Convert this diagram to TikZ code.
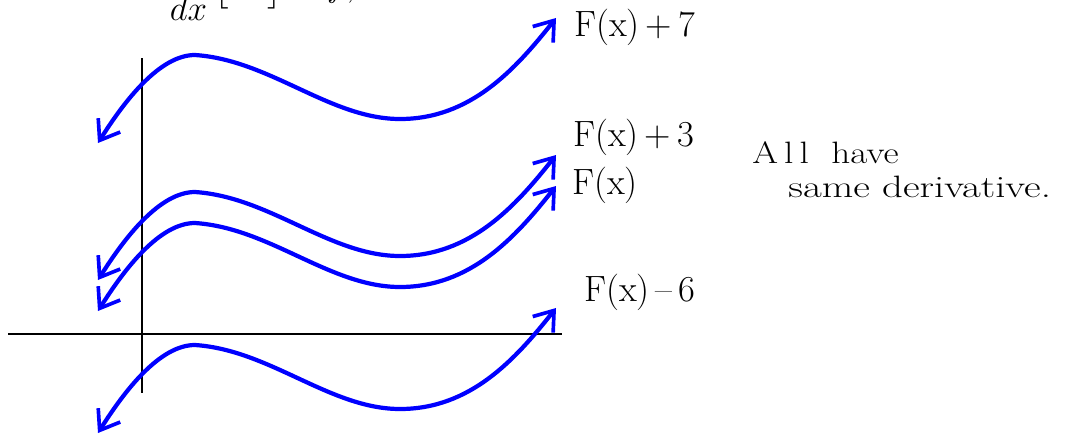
\documentclass[tikz,border=0pt]{standalone}
\usepackage{amsmath}
\usetikzlibrary{arrows.meta}

\begin{document}
\begin{tikzpicture}[x=0.025cm, y=-0.025cm,
    curve/.style={blue, line width=3pt, line cap=round, line join=round,
                  {Straight Barb[length=4.5mm, width=6.5mm, line width=2.6pt]}-{Straight Barb[length=4.5mm, width=6.5mm, line width=2.6pt]}},
    axis/.style={line width=1pt},
    label/.style={font=\fontsize{26}{30}\selectfont, anchor=west, inner sep=0pt},
    note/.style={font=\fontsize{22}{26}\selectfont, anchor=base west, inner sep=0pt,
                 xscale=1.2, transform shape}]
    \useasboundingbox (0,0) rectangle (1071,434);
    % axes
    \coordinate (xl) at (8,334);
    \coordinate (xr) at (562,334);
    \coordinate (yt) at (142,58);
    \coordinate (yb) at (142,393);
    \draw[axis] (xl) -- (xr);
    \draw[axis] (yt) -- (yb);
    % one curve, shifted up and down
    \foreach \dy in {55, 192, 223, 345}
      \draw[curve, shift={(0,\dy)}] (98,88)
        .. controls (125,45) and (160,0) .. (195,0)
        .. controls (270,5) and (330,64) .. (400,64)
        .. controls (470,64) and (515,15) .. (556,-37);
    % labels
    \node[label] (plus7) at (574,27) {F(x)\,+\,7};
    \node[label] (plus3) at (573,137) {F(x)\,+\,3};
    \node[label] (base) at (572,185) {F(x)};
    \node[label] (minus6) at (584,292) {F(x)\,--\,6};
    \node[note] (all) at (752,163) {A\,l\,l \ have};
    \node[note, xscale=1.1] (same) at (788,197) {same derivative.};
    % cut off at the top
    \node[label, anchor=south west] (deriv) at (168,21)
      {$\displaystyle\frac{d}{dx}\,\big[\,F\,\big] = f,$};
\end{tikzpicture}
\end{document}
